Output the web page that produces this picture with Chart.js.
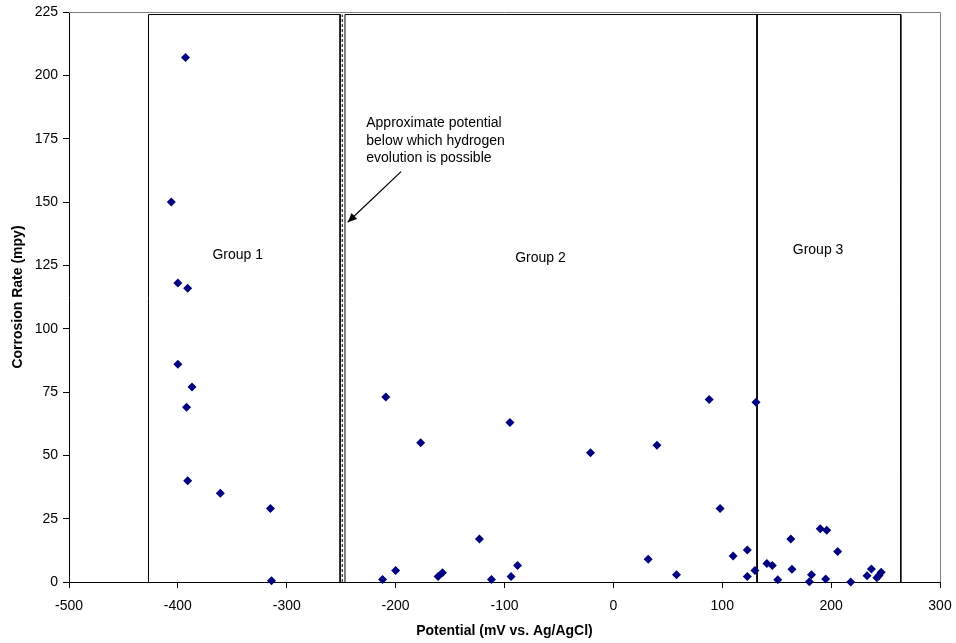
<!DOCTYPE html>
<html>
<head>
<meta charset="utf-8">
<script src="https://cdn.jsdelivr.net/npm/chart.js@4/dist/chart.umd.min.js"></script>
<style>
  html, body { margin: 0; padding: 0; background: #fff; }
  #wrap { width: 956px; height: 643px; }
</style>
</head>
<body>
<div id="wrap"><canvas id="chart"></canvas></div>
<script>
// Measured samples: potential (mV vs. Ag/AgCl) and corrosion rate (mpy)
const potential = [-393, -406, -400, -391, -400, -387, -392, -391, -361, -315, -314,
  -209, -212, -200, -177, -161, -157, -123, -112, -95, -94, -88, -21,
  32, 40, 58, 88, 98, 110, 123, 123, 130, 131,
  141, 146, 151, 163, 164, 180, 182, 190, 196, 195, 206, 218, 233, 237, 242, 244, 246]
const corrosionRate = [207, 150, 118, 116, 86, 77, 69, 40, 35, 29, 0.5,
  73, 1, 4.5, 55, 2.2, 3.7, 17, 1, 63, 2.2, 6.5, 51,
  9, 54, 2.9, 72, 29, 10.3, 12.6, 2.2, 4.5, 71,
  7.3, 6.5, 0.9, 17, 5, 0.1, 2.9, 21, 20.4, 1.2, 12, 0, 2.5, 5.1, 1.7, 2.6, 3.8]

// Group boxes (potential range) and label text
const groupNames = ['Group 1', 'Group 2', 'Group 3']
const groupStart = [-427, -246.5, 132]
const groupEnd = [-251, 132, 264]
const groupTop = 224
const groupLabelAt = [[-345, 129], [-67, 128], [188, 131]]

// hydrogen evolution line
const hydrogenLimit = -249
const noteLines = ['Approximate potential', 'below which hydrogen', 'evolution is possible']
const noteAt = [-227, 181]
const arrowFrom = [-195, 162]
const arrowTo = [-244, 142]

const xTicks = [-500, 300, 100]   // min, max, step
const yTicks = [0, 225, 25]

const FONT = '"Liberation Sans", Arial, sans-serif'

const points = potential.map((p, i) => ({ x: p, y: corrosionRate[i] }))

const boxSets = groupNames.map((name, i) => ({
  type: 'line',
  label: name,
  data: [
    { x: groupStart[i], y: 0 }, { x: groupStart[i], y: groupTop },
    { x: groupEnd[i], y: groupTop }, { x: groupEnd[i], y: 0 }
  ],
  borderColor: '#000',
  borderWidth: 1,
  pointRadius: 0,
  fill: false,
  tension: 0,
  showLine: true,
  clip: false
}))

const annotations = {
  id: 'annotations',
  beforeDatasetsDraw(chart) {
    const { ctx, chartArea } = chart
    ctx.save()
    ctx.strokeStyle = '#808080'
    ctx.lineWidth = 1
    ctx.beginPath()
    ctx.moveTo(chartArea.left, chartArea.top + 0.5)
    ctx.lineTo(chartArea.right + 0.5, chartArea.top + 0.5)
    ctx.lineTo(chartArea.right + 0.5, chartArea.bottom)
    ctx.stroke()
    ctx.restore()
  },
  afterDatasetsDraw(chart) {
    const { ctx } = chart
    const xs = chart.scales.x, ys = chart.scales.y
    ctx.save()
    ctx.fillStyle = '#000'
    ctx.font = '14px ' + FONT
    ctx.textBaseline = 'middle'
    ctx.textAlign = 'center'
    groupNames.forEach((name, i) => {
      ctx.fillText(name, xs.getPixelForValue(groupLabelAt[i][0]), ys.getPixelForValue(groupLabelAt[i][1]))
    })
    ctx.textAlign = 'left'
    const nx = xs.getPixelForValue(noteAt[0]), ny = ys.getPixelForValue(noteAt[1])
    noteLines.forEach((line, i) => ctx.fillText(line, nx, ny + i * 17.5))

    // arrow
    const x1 = xs.getPixelForValue(arrowFrom[0]), y1 = ys.getPixelForValue(arrowFrom[1])
    const x2 = xs.getPixelForValue(arrowTo[0]), y2 = ys.getPixelForValue(arrowTo[1])
    ctx.strokeStyle = '#000'
    ctx.lineWidth = 1.2
    ctx.beginPath()
    ctx.moveTo(x1, y1)
    ctx.lineTo(x2, y2)
    ctx.stroke()
    const ang = Math.atan2(y2 - y1, x2 - x1)
    ctx.beginPath()
    ctx.moveTo(x2, y2)
    ctx.lineTo(x2 - 10 * Math.cos(ang - 0.42), y2 - 10 * Math.sin(ang - 0.42))
    ctx.lineTo(x2 - 10 * Math.cos(ang + 0.42), y2 - 10 * Math.sin(ang + 0.42))
    ctx.closePath()
    ctx.fill()
    ctx.restore()
  }
}

new Chart(document.getElementById('chart'), {
  type: 'scatter',
  data: {
    datasets: [
      {
        label: 'Corrosion rate',
        data: points,
        pointStyle: 'rectRot',
        pointRadius: 4.5,
        pointBackgroundColor: '#000080',
        pointBorderColor: '#000080',
        pointBorderWidth: 0,
        clip: false
      },
      ...boxSets,
      {
        type: 'line',
        label: 'Hydrogen',
        data: [{ x: hydrogenLimit, y: 0 }, { x: hydrogenLimit, y: groupTop }],
        borderColor: '#000',
        borderWidth: 1,
        borderDash: [3, 2],
        pointRadius: 0,
        fill: false,
        showLine: true
      }
    ]
  },
  options: {
    responsive: true,
    maintainAspectRatio: false,
    animation: false,
    layout: { padding: { top: 12, right: 16, left: 0, bottom: 0 } },
    plugins: {
      legend: { display: false },
      tooltip: { enabled: false }
    },
    scales: {
      x: {
        type: 'linear',
        min: xTicks[0],
        max: xTicks[1],
        afterFit: (scale) => {
          scale.height = 61
          scale.paddingLeft = 0
          scale.paddingRight = 0
        },
        ticks: { stepSize: xTicks[2], color: '#000', padding: 10, maxRotation: 0, font: { family: FONT, size: 14 } },
        grid: { drawOnChartArea: false, tickLength: 6, color: '#000' },
        border: { color: '#000', width: 1 },
        title: { display: true, text: 'Potential (mV vs. Ag/AgCl)', color: '#000', padding: { top: 3, bottom: 3 }, font: { family: FONT, size: 14, weight: 'bold' } }
      },
      y: {
        min: yTicks[0],
        max: yTicks[1],
        afterFit: (scale) => {
          scale.width = 69
          scale.paddingTop = 0
          scale.paddingBottom = 0
        },
        ticks: { stepSize: yTicks[2], color: '#000', padding: 5, font: { family: FONT, size: 14 } },
        grid: { drawOnChartArea: false, tickLength: 6, color: '#000' },
        border: { color: '#000', width: 1 },
        title: { display: true, text: 'Corrosion Rate (mpy)', color: '#000', padding: { top: 10, bottom: 10 }, font: { family: FONT, size: 14, weight: 'bold' } }
      }
    }
  },
  plugins: [annotations]
})
</script>
</body>
</html>
